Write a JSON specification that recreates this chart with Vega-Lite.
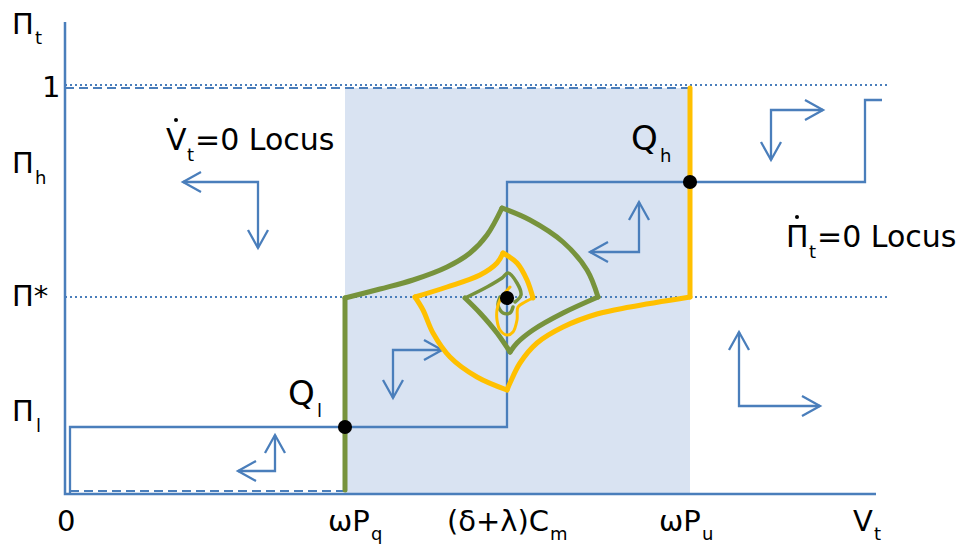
{
"$schema": "https://vega.github.io/schema/vega-lite/v6.json",
"width": 977, "height": 548, "padding": 0, "autosize": {"type": "none"},
"background": "white",
"config": {"view": {"stroke": null}},
"datasets": {
"shade": [{"x": 345, "x2": 690, "y": 88, "y2": 493}],
"axes": [{"g": "a", "o": 1, "x": 65, "y": 22}, {"g": "a", "o": 2, "x": 65, "y": 494}, {"g": "a", "o": 3, "x": 876, "y": 494}],
"steps": [{"g": "s", "o": 1, "x": 70, "y": 493}, {"g": "s", "o": 2, "x": 70, "y": 427}, {"g": "s", "o": 3, "x": 507, "y": 427}, {"g": "s", "o": 4, "x": 507, "y": 182}, {"g": "s", "o": 5, "x": 865, "y": 182}, {"g": "s", "o": 6, "x": 865, "y": 100}, {"g": "s", "o": 7, "x": 882, "y": 100}],
"dotted": [{"g": "d1", "o": 1, "x": 65, "y": 85}, {"g": "d1", "o": 2, "x": 890, "y": 85}, {"g": "d2", "o": 1, "x": 65, "y": 297}, {"g": "d2", "o": 2, "x": 890, "y": 297}],
"dashed": [{"g": "e1", "o": 1, "x": 65, "y": 88}, {"g": "e1", "o": 2, "x": 690, "y": 88}, {"g": "e2", "o": 1, "x": 70, "y": 491}, {"g": "e2", "o": 2, "x": 345, "y": 491}],
"arrows": [
{"g": "a1p", "o": 1, "x": 183, "y": 182}, {"g": "a1p", "o": 2, "x": 258, "y": 182}, {"g": "a1p", "o": 3, "x": 258, "y": 248},
{"g": "a1h", "o": 1, "x": 201, "y": 172}, {"g": "a1h", "o": 2, "x": 183, "y": 182}, {"g": "a1h", "o": 3, "x": 201, "y": 192},
{"g": "a1v", "o": 1, "x": 248, "y": 230}, {"g": "a1v", "o": 2, "x": 258, "y": 248}, {"g": "a1v", "o": 3, "x": 268, "y": 230},
{"g": "a2p", "o": 1, "x": 275, "y": 435}, {"g": "a2p", "o": 2, "x": 275, "y": 471}, {"g": "a2p", "o": 3, "x": 238, "y": 471},
{"g": "a2h", "o": 1, "x": 265, "y": 453}, {"g": "a2h", "o": 2, "x": 275, "y": 435}, {"g": "a2h", "o": 3, "x": 285, "y": 453},
{"g": "a2v", "o": 1, "x": 256, "y": 461}, {"g": "a2v", "o": 2, "x": 238, "y": 471}, {"g": "a2v", "o": 3, "x": 256, "y": 481},
{"g": "a3p", "o": 1, "x": 442, "y": 350}, {"g": "a3p", "o": 2, "x": 393, "y": 350}, {"g": "a3p", "o": 3, "x": 393, "y": 398},
{"g": "a3h", "o": 1, "x": 424, "y": 340}, {"g": "a3h", "o": 2, "x": 442, "y": 350}, {"g": "a3h", "o": 3, "x": 424, "y": 360},
{"g": "a3v", "o": 1, "x": 383, "y": 380}, {"g": "a3v", "o": 2, "x": 393, "y": 398}, {"g": "a3v", "o": 3, "x": 403, "y": 380},
{"g": "a4p", "o": 1, "x": 639, "y": 202}, {"g": "a4p", "o": 2, "x": 639, "y": 252}, {"g": "a4p", "o": 3, "x": 590, "y": 252},
{"g": "a4h", "o": 1, "x": 629, "y": 220}, {"g": "a4h", "o": 2, "x": 639, "y": 202}, {"g": "a4h", "o": 3, "x": 649, "y": 220},
{"g": "a4v", "o": 1, "x": 608, "y": 242}, {"g": "a4v", "o": 2, "x": 590, "y": 252}, {"g": "a4v", "o": 3, "x": 608, "y": 262},
{"g": "a5p", "o": 1, "x": 823, "y": 110}, {"g": "a5p", "o": 2, "x": 771, "y": 110}, {"g": "a5p", "o": 3, "x": 771, "y": 160},
{"g": "a5h", "o": 1, "x": 805, "y": 100}, {"g": "a5h", "o": 2, "x": 823, "y": 110}, {"g": "a5h", "o": 3, "x": 805, "y": 120},
{"g": "a5v", "o": 1, "x": 761, "y": 142}, {"g": "a5v", "o": 2, "x": 771, "y": 160}, {"g": "a5v", "o": 3, "x": 781, "y": 142},
{"g": "a6p", "o": 1, "x": 739, "y": 332}, {"g": "a6p", "o": 2, "x": 739, "y": 406}, {"g": "a6p", "o": 3, "x": 820, "y": 406},
{"g": "a6h", "o": 1, "x": 729, "y": 350}, {"g": "a6h", "o": 2, "x": 739, "y": 332}, {"g": "a6h", "o": 3, "x": 749, "y": 350},
{"g": "a6v", "o": 1, "x": 802, "y": 396}, {"g": "a6v", "o": 2, "x": 820, "y": 406}, {"g": "a6v", "o": 3, "x": 802, "y": 416}
],
"green": [
{"g": "g1", "o": 1, "x": 345, "y": 490}, {"g": "g1", "o": 2, "x": 345, "y": 298},
{"g": "g2", "o": 1, "x": 345, "y": 298}, {"g": "g2", "o": 2, "x": 380, "y": 289}, {"g": "g2", "o": 3, "x": 413, "y": 280}, {"g": "g2", "o": 4, "x": 447, "y": 267}, {"g": "g2", "o": 5, "x": 470, "y": 253}, {"g": "g2", "o": 6, "x": 487, "y": 235}, {"g": "g2", "o": 7, "x": 502, "y": 208},
{"g": "g3", "o": 1, "x": 502, "y": 208}, {"g": "g3", "o": 2, "x": 530, "y": 220}, {"g": "g3", "o": 3, "x": 563, "y": 242}, {"g": "g3", "o": 4, "x": 587, "y": 270}, {"g": "g3", "o": 5, "x": 598, "y": 297},
{"g": "g4", "o": 1, "x": 598, "y": 297}, {"g": "g4", "o": 2, "x": 563, "y": 313}, {"g": "g4", "o": 3, "x": 533, "y": 330}, {"g": "g4", "o": 4, "x": 517, "y": 343}, {"g": "g4", "o": 5, "x": 510, "y": 352},
{"g": "g5", "o": 1, "x": 510, "y": 352}, {"g": "g5", "o": 2, "x": 497, "y": 333}, {"g": "g5", "o": 3, "x": 480, "y": 313}, {"g": "g5", "o": 4, "x": 465, "y": 298}
],
"greenInner": [
{"g": "g6", "o": 1, "x": 465, "y": 298}, {"g": "g6", "o": 2, "x": 487, "y": 287}, {"g": "g6", "o": 3, "x": 502, "y": 278}, {"g": "g6", "o": 4, "x": 508, "y": 273}, {"g": "g6", "o": 5, "x": 517, "y": 283}, {"g": "g6", "o": 6, "x": 521, "y": 295}, {"g": "g6", "o": 7, "x": 515, "y": 302},
{"g": "g7", "o": 1, "x": 500, "y": 297}, {"g": "g7", "o": 2, "x": 498, "y": 305}, {"g": "g7", "o": 3, "x": 503, "y": 313}, {"g": "g7", "o": 4, "x": 510, "y": 313}, {"g": "g7", "o": 5, "x": 513, "y": 307}
],
"yellow": [
{"g": "y1", "o": 1, "x": 690, "y": 88}, {"g": "y1", "o": 2, "x": 690, "y": 297},
{"g": "y2", "o": 1, "x": 690, "y": 297}, {"g": "y2", "o": 2, "x": 630, "y": 307}, {"g": "y2", "o": 3, "x": 597, "y": 314}, {"g": "y2", "o": 4, "x": 563, "y": 327}, {"g": "y2", "o": 5, "x": 537, "y": 343}, {"g": "y2", "o": 6, "x": 520, "y": 363}, {"g": "y2", "o": 7, "x": 510, "y": 383}, {"g": "y2", "o": 8, "x": 507, "y": 390},
{"g": "y3", "o": 1, "x": 507, "y": 390}, {"g": "y3", "o": 2, "x": 477, "y": 377}, {"g": "y3", "o": 3, "x": 450, "y": 357}, {"g": "y3", "o": 4, "x": 433, "y": 333}, {"g": "y3", "o": 5, "x": 423, "y": 310}, {"g": "y3", "o": 6, "x": 415, "y": 297},
{"g": "y4", "o": 1, "x": 415, "y": 297}, {"g": "y4", "o": 2, "x": 447, "y": 287}, {"g": "y4", "o": 3, "x": 480, "y": 275}, {"g": "y4", "o": 4, "x": 497, "y": 263}, {"g": "y4", "o": 5, "x": 503, "y": 253},
{"g": "y5", "o": 1, "x": 503, "y": 253}, {"g": "y5", "o": 2, "x": 517, "y": 263}, {"g": "y5", "o": 3, "x": 527, "y": 280}, {"g": "y5", "o": 4, "x": 533, "y": 298}
],
"yellowInner": [
{"g": "y6", "o": 1, "x": 533, "y": 298}, {"g": "y6", "o": 2, "x": 525, "y": 302}, {"g": "y6", "o": 3, "x": 518, "y": 307}, {"g": "y6", "o": 4, "x": 517, "y": 320}, {"g": "y6", "o": 5, "x": 513, "y": 332}, {"g": "y6", "o": 6, "x": 507, "y": 335}, {"g": "y6", "o": 7, "x": 500, "y": 330}, {"g": "y6", "o": 8, "x": 497, "y": 320}, {"g": "y6", "o": 9, "x": 497, "y": 310}, {"g": "y6", "o": 10, "x": 500, "y": 300}, {"g": "y6", "o": 11, "x": 510, "y": 287}
],
"dots": [{"x": 345, "y": 427}, {"x": 690, "y": 182}, {"x": 507, "y": 298}],
"accents": [{"x": 176, "y": 120}, {"x": 797, "y": 217}],
"labels": [
{"t": "Π", "x": 12, "y": 34}, {"t": "1", "x": 42, "y": 97}, {"t": "Π", "x": 12, "y": 173}, {"t": "Π*", "x": 12, "y": 306}, {"t": "Π", "x": 12, "y": 421},
{"t": "0", "x": 57, "y": 531}, {"t": "ωP", "x": 328, "y": 531}, {"t": "(δ+λ)C", "x": 447, "y": 531}, {"t": "ωP", "x": 659, "y": 531}, {"t": "V", "x": 853, "y": 531}
],
"locus": [
{"t": "V", "x": 166, "y": 150}, {"t": "=0 Locus", "x": 195, "y": 150}, {"t": "Π", "x": 786, "y": 247}, {"t": "=0 Locus", "x": 817, "y": 247}
],
"bigLabels": [{"t": "Q", "x": 631, "y": 150}, {"t": "Q", "x": 288, "y": 405}],
"subs": [
{"t": "t", "x": 35, "y": 44}, {"t": "h", "x": 35, "y": 184}, {"t": "l", "x": 36, "y": 432},
{"t": "q", "x": 371, "y": 540}, {"t": "m", "x": 550, "y": 540}, {"t": "u", "x": 702, "y": 540}, {"t": "t", "x": 874, "y": 540},
{"t": "t", "x": 187, "y": 161}, {"t": "t", "x": 809, "y": 258},
{"t": "h", "x": 660, "y": 162}, {"t": "l", "x": 317, "y": 417}
]
},
"encoding": {
"x": {"field": "x", "type": "quantitative", "scale": {"domain": [0, 977], "nice": false, "zero": false}, "axis": null},
"y": {"field": "y", "type": "quantitative", "scale": {"domain": [0, 548], "reverse": true, "nice": false, "zero": false}, "axis": null}
},
"layer": [
{"data": {"name": "shade"}, "mark": {"type": "rect", "color": "#d9e3f2"}, "encoding": {"x2": {"field": "x2"}, "y2": {"field": "y2"}}},
{"data": {"name": "dotted"}, "mark": {"type": "line", "color": "#4a7ebb", "strokeWidth": 2, "strokeDash": [2, 3]}, "encoding": {"detail": {"field": "g"}, "order": {"field": "o"}}},
{"data": {"name": "dashed"}, "mark": {"type": "line", "color": "#4a7ebb", "strokeWidth": 2, "strokeDash": [9, 5]}, "encoding": {"detail": {"field": "g"}, "order": {"field": "o"}}},
{"data": {"name": "axes"}, "mark": {"type": "line", "color": "#4a7ebb", "strokeWidth": 2.5}, "encoding": {"detail": {"field": "g"}, "order": {"field": "o"}}},
{"data": {"name": "steps"}, "mark": {"type": "line", "color": "#4a7ebb", "strokeWidth": 2.3}, "encoding": {"detail": {"field": "g"}, "order": {"field": "o"}}},
{"data": {"name": "arrows"}, "mark": {"type": "line", "color": "#4a7ebb", "strokeWidth": 2.3}, "encoding": {"detail": {"field": "g"}, "order": {"field": "o"}}},
{"data": {"name": "green"}, "mark": {"type": "line", "color": "#77933c", "strokeWidth": 5, "interpolate": "catmull-rom", "strokeCap": "round"}, "encoding": {"detail": {"field": "g"}, "order": {"field": "o"}}},
{"data": {"name": "greenInner"}, "mark": {"type": "line", "color": "#77933c", "strokeWidth": 3.5, "interpolate": "catmull-rom", "strokeCap": "round"}, "encoding": {"detail": {"field": "g"}, "order": {"field": "o"}}},
{"data": {"name": "yellow"}, "mark": {"type": "line", "color": "#ffc000", "strokeWidth": 5, "interpolate": "catmull-rom", "strokeCap": "round"}, "encoding": {"detail": {"field": "g"}, "order": {"field": "o"}}},
{"data": {"name": "yellowInner"}, "mark": {"type": "line", "color": "#ffc000", "strokeWidth": 3, "interpolate": "catmull-rom", "strokeCap": "round"}, "encoding": {"detail": {"field": "g"}, "order": {"field": "o"}}},
{"data": {"name": "dots"}, "mark": {"type": "point", "filled": true, "color": "black", "size": 200, "opacity": 1}},
{"data": {"name": "accents"}, "mark": {"type": "point", "filled": true, "color": "black", "size": 16, "opacity": 1}},
{"data": {"name": "labels"}, "mark": {"type": "text", "font": "DejaVu Sans", "fontSize": 29, "align": "left", "baseline": "alphabetic", "color": "black"}, "encoding": {"text": {"field": "t"}}},
{"data": {"name": "locus"}, "mark": {"type": "text", "font": "DejaVu Sans", "fontSize": 30, "align": "left", "baseline": "alphabetic", "color": "black"}, "encoding": {"text": {"field": "t"}}},
{"data": {"name": "bigLabels"}, "mark": {"type": "text", "font": "DejaVu Sans", "fontSize": 34, "align": "left", "baseline": "alphabetic", "color": "black"}, "encoding": {"text": {"field": "t"}}},
{"data": {"name": "subs"}, "mark": {"type": "text", "font": "DejaVu Sans", "fontSize": 18, "align": "left", "baseline": "alphabetic", "color": "black"}, "encoding": {"text": {"field": "t"}}}
]
}
